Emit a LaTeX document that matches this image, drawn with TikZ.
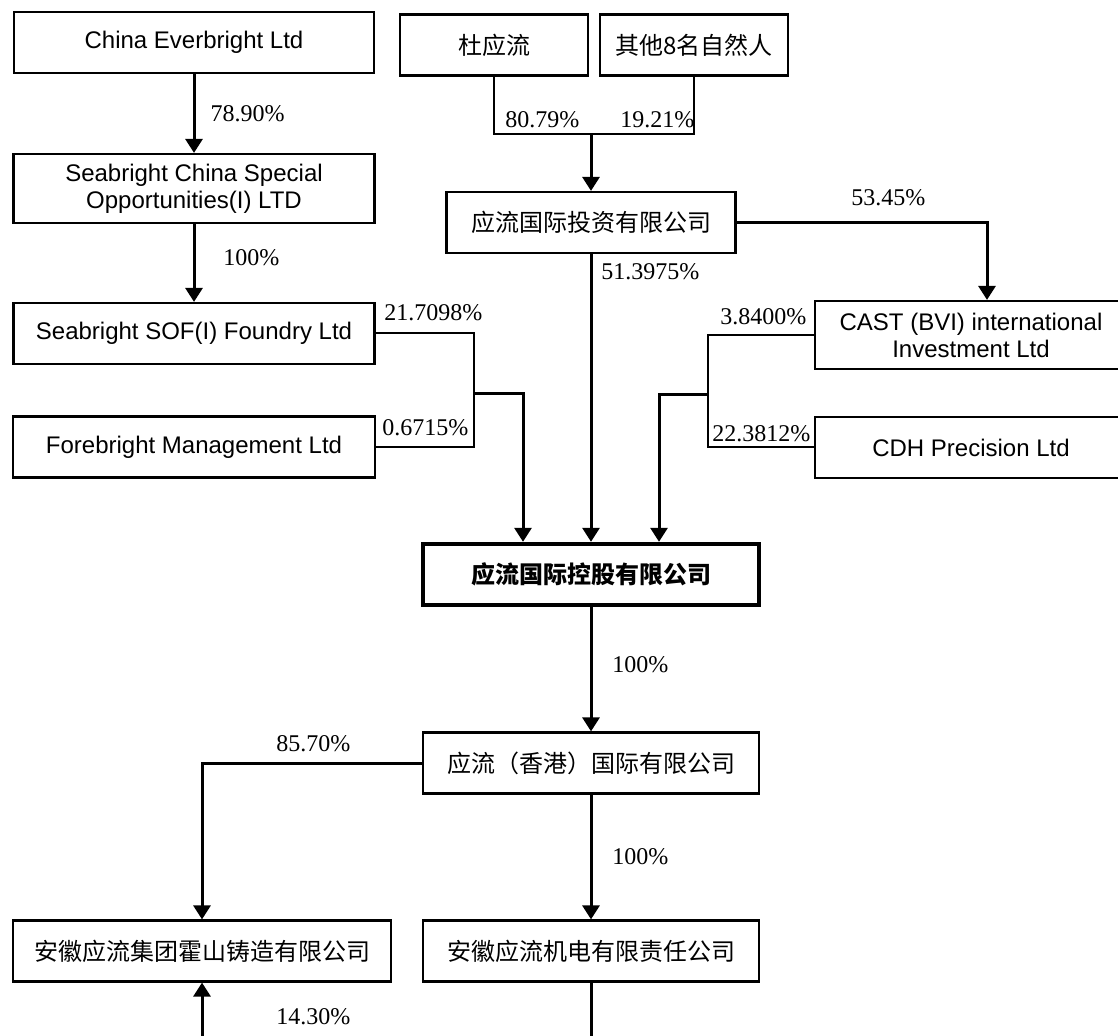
\documentclass[tikz,border=0pt]{standalone}
\usepackage{fontspec}
\setmainfont{Liberation Serif}
\setsansfont{Liberation Sans}
\newfontfamily\cjk{Noto Sans CJK SC}
\usetikzlibrary{%
  arrows.meta%
}

\begin{document}
\begin{tikzpicture}[x=0.5pt,y=-0.5pt,
    box/.style={draw,line width=1.1pt,minimum height=30.5pt,inner sep=2pt},
    en/.style={box,align=center,font=\sffamily\fontsize{12}{13.5}\selectfont},
    zh/.style={box,font=\cjk\fontsize{12}{13.5}\selectfont},
    link/.style={line width=1.5pt,-{Triangle[length=7pt,width=8.5pt]}},
    wire/.style={line width=1pt},
    pct/.style={anchor=west,inner sep=0pt,font=\fontsize{12}{13}\selectfont}]
      \clip (0,0) rectangle (1118,1036);
      % holders of the top
      \node [en,minimum width=180pt] (ceb) at (194,42.5) {China Everbright Ltd};
      \node [en,minimum width=180.5pt,minimum height=34.5pt] (scso) at (194,188.5) {Seabright China Special\\Opportunities(I) LTD};
      \node [en,minimum width=180.5pt] (sof) at (194,333.5) {Seabright SOF(I) Foundry Ltd};
      \node [en,minimum width=181pt] (fore) at (194,447) {Forebright Management Ltd};
      \node [zh,minimum width=94pt] (du) at (494,45) {杜应流};
      \node [zh,minimum width=94pt] (other) at (694,45) {其他8名自然人};
      \node [zh,minimum width=144.5pt] (invest) at (591,222.5) {应流国际投资有限公司};
      \node [en,minimum width=156pt,minimum height=34pt] (cast) at (971,335) {CAST (BVI) international\\Investment Ltd};
      \node [en,minimum width=156pt] (cdh) at (971,447.5) {CDH Precision Ltd};
      % the group
      \node [zh,minimum width=168pt,line width=2.2pt,font=\cjk\bfseries\fontsize{12}{13.5}\selectfont] (hold) at (591,574.5) {应流国际控股有限公司};
      \node [zh,minimum width=168pt] (hk) at (591,763) {应流（香港）国际有限公司};
      \node [zh,minimum width=189pt] (huoshan) at (202,951) {安徽应流集团霍山铸造有限公司};
      \node [zh,minimum width=168pt] (jd) at (591,951) {安徽应流机电有限责任公司};
      % links
      \draw [link] (ceb) -- (scso) node [pct,pos=.5,xshift=7.5pt] (p1) {78.90\%};
      \draw [link] (scso) -- (sof);
      \node [pct] (p2) at (223,258) {100\%};
      \coordinate (lj) at (474,394);
      \draw [wire] (sof.east) -| (lj) |- (fore.east);
      \draw [link] (lj) -| ([xshift=-34pt]hold.north);
      \node [pct] (p3) at (384,313) {21.7098\%};
      \node [pct] (p4) at (382,428) {0.6715\%};
      \coordinate (dj) at (591,134);
      \draw [wire] (du.south) |- (dj) -| (other.south);
      \draw [link] (dj) -- (invest.north);
      \node [pct] (p5) at (505,120) {80.79\%};
      \node [pct] (p6) at (620,120) {19.21\%};
      \draw [link] (invest) -- (hold);
      \node [pct] (p7) at (601,272) {51.3975\%};
      \draw [link] (invest.east) -| ([xshift=8pt]cast.north);
      \node [pct] (p8) at (851,198) {53.45\%};
      \coordinate (rj) at (708,395);
      \draw [wire] (cast.west) -| (rj) |- (cdh.west);
      \draw [link] (rj) -| ([xshift=34pt]hold.north);
      \node [pct] (p9) at (720,317) {3.8400\%};
      \node [pct] (p10) at (712,434) {22.3812\%};
      \draw [link] (hold) -- (hk);
      \node [pct] (p11) at (612,665) {100\%};
      \draw [link] (hk.west) -| (huoshan.north);
      \node [pct] (p12) at (276,744) {85.70\%};
      \draw [link] (hk) -- (jd);
      \node [pct] (p13) at (612,857) {100\%};
      % cut at the lower edge
      \coordinate (jdend) at (591,1050);
      \coordinate (hsend) at (202,1050);
      \draw [line width=1.5pt] (jd) -- (jdend);
      \draw [link] (hsend) -- (huoshan);
      \node [pct] (p14) at (276,1017) {14.30\%};
    \end{tikzpicture}
\end{document}
